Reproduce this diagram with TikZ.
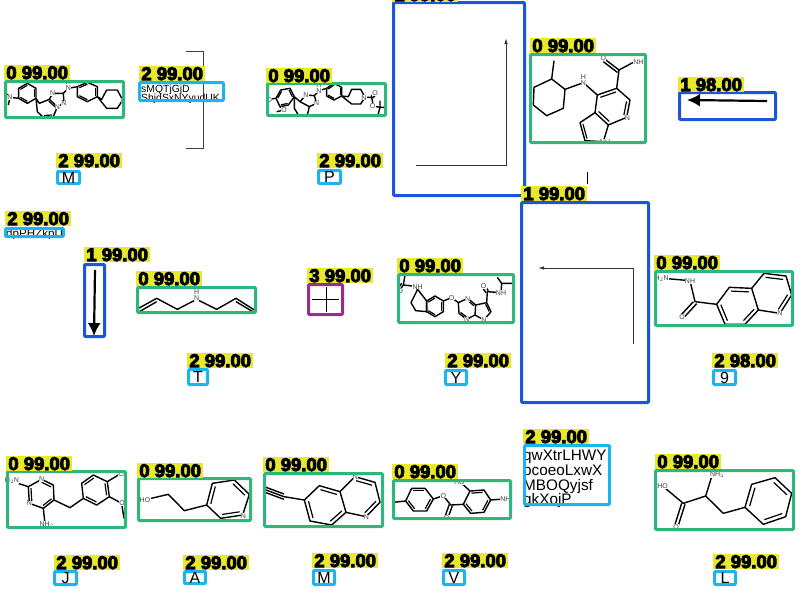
\documentclass[tikz,border=0pt]{standalone}
\usepackage{fontspec}
\setmainfont{Liberation Sans}
\newfontfamily\labfont{Liberation Sans Bold}
\usetikzlibrary{arrows.meta,calc}
\definecolor{molgreen}{HTML}{2FB67A}
\definecolor{arrblue}{HTML}{1A56D6}
\definecolor{txtcyan}{HTML}{1DB4EE}
\definecolor{plusviolet}{HTML}{942F8D}
\definecolor{labyellow}{HTML}{E8E82C}
\newcount\atomno
% box from outer corners, line width taken off
\newcommand{\detbox}[7][]{\node[detbox,#2,minimum width={(#5-#3-3)*1pt},minimum height={(#6-#4-3)*1pt}] (#1) at ({(#3+#5)/2},{(#4+#6)/2}) {#7};}
% score text is stroked as well as filled, it prints very heavy
\newcommand{\detlab}[4]{\node[detlab] (#1) at (#2,#3) {\special{pdf:code 2 Tr 0.9 w}#4\special{pdf:code 0 Tr 1 w}};}
\newcommand{\atom}[3]{\global\advance\atomno by 1 \node[atom] (atom\the\atomno) at (#1,#2) {#3};}
\newcommand{\inbond}[3]{\draw[thinb] ($#1!.2!#3$)--($#2!.2!#3$);}
\begin{document}
\begin{tikzpicture}[x=1pt,y=-1pt,>=Latex,
 detbox/.style={draw,line width=3pt,rounded corners=1pt,inner sep=0pt,font=\fontsize{16}{16}\selectfont},
 molbox/.style={draw=molgreen},
 arrbox/.style={draw=arrblue},
 txtbox/.style={draw=txtcyan},
 plusbox/.style={draw=plusviolet},
 detlab/.style={anchor=north west,fill=labyellow,inner sep=0pt,minimum width=66pt,minimum height=15pt,font=\labfont\fontsize{18.5}{17}\selectfont},
 atom/.style={fill=white,inner sep=.3pt,text=black!75,font=\fontsize{7}{8}\selectfont},
 bond/.style={line width=1.4pt,line join=round},
 thinb/.style={line width=1.2pt},
 thinarr/.style={->,line width=.9pt,black!80,>={Latex[length=6pt,width=3.5pt]}},
 fatarr/.style={->,line width=2.2pt,>={Latex[length=13pt,width=13pt]}},
 rawtext/.style={anchor=base west,inner sep=0pt}]
 \useasboundingbox (0,0) rectangle (800,600);
 % row 1 molecules
 \begin{scope}[shift={(0,40)},scale=1/3]
  \clip (12,120) rectangle (375,237);
  \draw[bond] (82,130)--(108,145)--(108,175)--(82,190)--(56,175)--(56,145)--cycle;
  \inbond{(108,145)}{(108,175)}{(82,160)}\inbond{(82,190)}{(56,175)}{(82,160)}\inbond{(56,145)}{(82,130)}{(82,160)}
  \draw[bond] (56,175)--(30,172)--(25,195) (30,172)--(18,160);
  \draw[bond] (108,175)--(118,190)--(148,178)--(172,200)--(160,230)--(130,232)--(112,215)--cycle;
  \inbond{(148,178)}{(172,200)}{(140,205)}\inbond{(160,230)}{(130,232)}{(140,205)}
  \draw[bond] (148,178)--(158,160)--(190,160)--(192,190)--(172,200);
  \draw[bond] (190,160)--(205,145)--(232,140);
  \draw[bond] (262,127)--(292,140)--(292,170)--(262,185)--(232,170)--(232,140)--cycle;
  \inbond{(292,140)}{(292,170)}{(262,155)}\inbond{(262,185)}{(232,170)}{(262,155)}\inbond{(232,140)}{(262,127)}{(262,155)}
  \draw[bond] (292,170)--(305,178)--(320,150)--(352,150)--(368,180)--(352,205)--(320,205)--cycle;
  \atom{30}{172}{N}\atom{158}{160}{N}\atom{192}{190}{N}\atom{172}{200}{N}\atom{205}{145}{N}\atom{205}{127}{H}\atom{370}{182}{N}
 \end{scope}
 \begin{scope}[shift={(260,0)},scale=1/3]
  \clip (17,245) rectangle (382,350);
  \draw[bond] (62,270)--(90,265)--(103,290)--(85,315)--(60,320)--(48,295)--cycle;
  \inbond{(90,265)}{(103,290)}{(75,292)}\inbond{(85,315)}{(60,320)}{(75,292)}\inbond{(48,295)}{(62,270)}{(75,292)}
  \draw[bond] (48,295)--(25,298) (60,320)--(72,330)--(50,335);
  \draw[bond] (103,290)--(120,305)--(148,320)--(142,345)--(115,345)--(103,325)--cycle;
  \draw[bond] (120,305)--(138,285)--(163,287)--(170,310)--(148,320);
  \draw[bond] (163,287)--(177,272)--(200,265);
  \draw[bond] (222,250)--(245,262)--(245,288)--(222,300)--(200,288)--(200,265)--cycle;
  \inbond{(245,262)}{(245,288)}{(222,275)}\inbond{(222,300)}{(200,288)}{(222,275)}\inbond{(200,265)}{(222,250)}{(222,275)}
  \draw[bond] (245,288)--(265,290)--(275,268)--(302,268)--(315,292)--(302,312)--(275,312)--cycle;
  \draw[bond] (315,292)--(335,292)--(340,318)--(360,322);
  \draw[bond] (333,290)--(343,280) (338,294)--(348,284);
  \draw[bond] (355,342)--(360,322)--(378,322) (360,302)--(360,322);
  \atom{28}{300}{O}\atom{138}{285}{N}\atom{170}{310}{N}\atom{177}{272}{N}\atom{177}{254}{H}\atom{312}{293}{N}\atom{345}{280}{O}\atom{338}{318}{O}\atom{72}{330}{O}
 \end{scope}
 \begin{scope}[shift={(520,30)},scale=1/3]
  \clip (28,68) rectangle (380,342);
  \draw[bond] (95,147)--(135,178)--(130,235)--(80,257)--(40,225)--(42,172)--cycle;
  \draw[bond] (95,147)--(102,92) (135,178)--(190,158)--(232,195);
  \draw[bond] (232,195)--(290,175)--(330,210)--(320,262)--(265,285)--(225,248)--cycle;
  \inbond{(232,195)}{(290,175)}{(278,230)}\inbond{(330,210)}{(320,262)}{(278,230)}\inbond{(265,285)}{(225,248)}{(278,230)}
  \draw[bond] (225,248)--(180,278)--(195,332)--(250,335)--(265,285);
  \inbond{(180,278)}{(195,332)}{(225,300)}
  \draw[bond] (290,175)--(297,120)--(340,97) (297,120)--(255,88) (292,127)--(250,95);
  \atom{190}{160}{N}\atom{190}{142}{H}\atom{322}{263}{N}\atom{355}{97}{NH}\atom{250}{85}{O}\atom{255}{335}{NH}
 \end{scope}
 \draw[black!75,line width=.9pt] (186,51)--(203,51)--(203,148)--(186,148);
 \draw[line width=1pt] (587,172)--(587,184);
 % row 2 molecules
 \begin{scope}[shift={(0,205)},scale=1/3]
  \clip (408,243) rectangle (772,326);
  \draw[bond] (412,312)--(470,280)--(532,313)--(590,283)--(650,313)--(708,280)--(768,318);
  \draw[bond] (418,320)--(470,290) (708,290)--(762,322);
  \atom{590}{280}{N}\atom{590}{261}{H}
 \end{scope}
 \begin{scope}[shift={(295,250)},scale=1/3]
  \clip (305,70) rectangle (662,222);
  \draw[bond] (330,75)--(325,105)--(352,108)--(368,118) (325,105)--(313,122) (320,100)--(308,117);
  \draw[bond] (368,118)--(348,158)--(362,182)--(395,185)--(395,153)--cycle;
  \draw[bond] (420,138)--(445,153)--(445,185)--(420,200)--(395,185)--(395,153)--cycle;
  \inbond{(445,153)}{(445,185)}{(420,170)}\inbond{(420,200)}{(395,185)}{(420,170)}\inbond{(395,153)}{(420,138)}{(420,170)}
  \draw[bond] (445,153)--(470,143)--(490,158);
  \draw[bond] (490,158)--(518,145)--(542,165)--(540,195)--(515,208)--(492,190)--cycle;
  \inbond{(518,145)}{(542,165)}{(516,176)}\inbond{(515,208)}{(492,190)}{(516,176)}
  \draw[bond] (542,165)--(575,158)--(588,185)--(567,210)--(540,195);
  \inbond{(575,158)}{(588,185)}{(560,182)}
  \draw[bond] (575,158)--(577,125)--(618,128)--(620,100)--(607,82) (620,100)--(652,100);
  \draw[bond] (580,122)--(570,108) (573,128)--(563,114);
  \atom{368}{110}{NH}\atom{470}{143}{O}\atom{518}{147}{N}\atom{515}{208}{N}\atom{567}{210}{N}\atom{618}{128}{NH}\atom{566}{109}{O}\atom{316}{122}{O}
 \end{scope}
 \begin{scope}[shift={(640,245)},scale=1/3]
  \clip (42,75) rectangle (463,245);
  \draw[bond] (70,100)--(150,107)--(165,170)--(230,178);
  \draw[bond] (160,170)--(125,208) (170,176)--(135,214);
  \draw[bond] (230,178)--(268,127)--(335,130)--(355,195)--(315,238)--(255,238)--cycle;
  \inbond{(268,127)}{(335,130)}{(292,183)}\inbond{(355,195)}{(315,238)}{(292,183)}\inbond{(255,238)}{(230,178)}{(292,183)}
  \draw[bond] (335,130)--(372,85)--(438,93)--(455,150)--(420,205)--(355,195);
  \inbond{(372,85)}{(438,93)}{(395,145)}\inbond{(455,150)}{(420,205)}{(395,145)}
  \atom{65}{100}{H$_2$N}\atom{150}{108}{NH}\atom{126}{216}{O}\atom{420}{205}{N}
 \end{scope}
 % row 3 molecules
 \begin{scope}[shift={(0,445)},scale=1/3]
  \clip (17,75) rectangle (382,252);
  \draw[bond] (38,110)--(85,125)--(125,103)--(160,120)--(162,165)--(130,190)--(88,175)--(85,125);
  \inbond{(125,103)}{(160,120)}{(125,147)}\inbond{(162,165)}{(130,190)}{(125,147)}\inbond{(88,175)}{(85,125)}{(125,147)}
  \draw[bond] (130,190)--(135,238) (162,165)--(210,188)--(250,160);
  \draw[bond] (250,160)--(245,115)--(280,90)--(322,110)--(328,155)--(290,180)--cycle;
  \inbond{(245,115)}{(280,90)}{(287,135)}\inbond{(322,110)}{(328,155)}{(287,135)}\inbond{(290,180)}{(250,160)}{(287,135)}
  \draw[bond] (322,110)--(355,90) (328,155)--(365,175)--(372,220);
  \atom{36}{108}{H$_2$N}\atom{125}{103}{N}\atom{88}{175}{N}\atom{140}{238}{NH$_2$}\atom{365}{86}{Cl}\atom{366}{175}{O}
 \end{scope}
 \begin{scope}[shift={(0,445)},scale=1/3]
  \clip (412,97) rectangle (757,232);
  \draw[bond] (445,162)--(505,148)--(553,197)--(620,180);
  \draw[bond] (620,180)--(637,115)--(703,105)--(748,148)--(728,210)--(662,220)--cycle;
  \inbond{(620,180)}{(637,115)}{(682,162)}\inbond{(703,105)}{(748,148)}{(682,162)}\inbond{(728,210)}{(662,220)}{(682,162)}
  \atom{435}{164}{HO}\atom{730}{212}{N}
 \end{scope}
 \begin{scope}[shift={(260,425)},scale=1/3]
  \clip (8,142) rectangle (372,310);
  \draw[bond] (18,187)--(72,207) (18,195)--(72,215) (18,203)--(72,223) (72,215)--(133,225);
  \draw[bond] (133,225)--(178,182)--(240,200)--(258,262)--(215,300)--(150,288)--cycle;
  \inbond{(178,182)}{(240,200)}{(195,242)}\inbond{(258,262)}{(215,300)}{(195,242)}\inbond{(150,288)}{(133,225)}{(195,242)}
  \draw[bond] (240,200)--(285,155)--(345,172)--(360,232)--(318,275)--(258,262);
  \inbond{(285,155)}{(345,172)}{(300,215)}\inbond{(360,232)}{(318,275)}{(300,215)}
  \atom{286}{155}{N}\atom{319}{277}{N}
 \end{scope}
 \begin{scope}[shift={(260,425)},scale=1/3]
  \clip (395,162) rectangle (755,286);
  \draw[bond] (400,232)--(437,228);
  \draw[bond] (437,228)--(455,190)--(495,190)--(520,222)--(500,258)--(460,258)--cycle;
  \inbond{(455,190)}{(495,190)}{(478,224)}\inbond{(520,222)}{(500,258)}{(478,224)}\inbond{(460,258)}{(437,228)}{(478,224)}
  \draw[bond] (520,222)--(550,212)--(572,240)--(610,238);
  \draw[bond] (568,238)--(556,272) (577,242)--(565,276);
  \draw[bond] (610,238)--(630,198)--(672,195)--(692,225)--(672,262)--(632,265)--cycle;
  \inbond{(630,198)}{(672,195)}{(651,230)}\inbond{(692,225)}{(672,262)}{(651,230)}\inbond{(632,265)}{(610,238)}{(651,230)}
  \draw[bond] (630,198)--(605,175) (692,225)--(730,222);
  \atom{550}{212}{O}\atom{598}{171}{HO}\atom{736}{222}{NH}\atom{560}{279}{O}
 \end{scope}
 \begin{scope}[shift={(515,425)},scale=1/3]
  \clip (418,132) rectangle (840,318);
  \draw[bond] (445,185)--(505,235)--(572,213)--(625,265)--(690,247) (572,213)--(590,155);
  \draw[bond] (500,235)--(480,298) (510,238)--(490,301);
  \draw[bond] (690,247)--(710,178)--(780,158)--(830,205)--(812,275)--(745,298)--cycle;
  \inbond{(710,178)}{(690,247)}{(760,228)}\inbond{(780,158)}{(830,205)}{(760,228)}\inbond{(812,275)}{(745,298)}{(760,228)}
  \atom{443}{184}{HO}\atom{606}{149}{NH$_2$}\atom{483}{305}{O}
 \end{scope}
 % printed texts, cut off by their boxes
 \begin{scope}
  \clip (138,81) rectangle (225,104);
  \node[rawtext,font=\fontsize{10.4}{10}\selectfont] (sm1) at (141,92) {sMQTjGjD};
  \node[rawtext,font=\fontsize{10.4}{10}\selectfont] (sm2) at (141,101.5) {ShjdSxNYyudUK};
 \end{scope}
 \begin{scope}
  \clip (4,227) rectangle (65,238);
  \node[rawtext,font=\fontsize{11.6}{12}\selectfont] (dp1) at (6,237) {dpPHZkpU};
 \end{scope}
 \begin{scope}
  \clip (523,444) rectangle (611,508);
  \foreach \ty/\tw [count=\i] in {460/qwXtrLHWY,475/pcoeoLxwX,490/MBOQyjsf,504.5/gkXojP}
   \node[rawtext,font=\fontsize{15.3}{15}\selectfont] (ql\i) at (523,\ty) {\tw};
 \end{scope}
 % detection boxes
 \detbox[m1]{molbox}{4}{80}{125}{119}{}
 \detbox[m2]{molbox}{266}{82}{387}{117}{}
 \detbox[m3]{molbox}{529}{53}{647}{144}{}
 \detbox[m4]{molbox}{136}{286}{257}{314}{}
 \detbox[m5]{molbox}{397}{273}{515}{324}{}
 \detbox[m6]{molbox}{654}{270}{794}{327}{}
 \detbox[m7]{molbox}{6}{470}{127}{529}{}
 \detbox[m8]{molbox}{137}{477}{252}{522}{}
 \detbox[m9]{molbox}{263}{472}{384}{528}{}
 \detbox[m10]{molbox}{392}{479}{512}{520}{}
 \detbox[m11]{molbox}{654}{469}{795}{531}{}
 \detbox[a1]{arrbox}{392}{1}{526}{197}{}
 \detbox[a2]{arrbox}{678}{91}{777}{121}{}
 \detbox[a3]{arrbox}{83}{263}{106}{338}{}
 \detbox[a4]{arrbox}{520}{201}{650}{404}{}
 \detbox[t1]{txtbox}{138}{81}{225}{102}{}
 \detbox[t2]{txtbox}{4}{227}{65}{238}{}
 \detbox[t3]{txtbox}{523}{444}{611}{506}{}
 \detbox[cM]{txtbox}{56}{170}{81}{185}{M}
 \detbox[cP]{txtbox}{317}{169}{342}{185}{P}
 \detbox[cT]{txtbox}{187}{368}{209}{386}{T}
 \detbox[cY]{txtbox}{444}{369}{468}{386}{Y}
 \detbox[c9]{txtbox}{712}{369}{737}{386}{9}
 \detbox[cJ]{txtbox}{53}{570}{78}{586}{J}
 \detbox[cA]{txtbox}{183}{570}{207}{585}{A}
 \detbox[cMb]{txtbox}{312}{569}{336}{586}{M}
 \detbox[cV]{txtbox}{442}{569}{466}{586}{V}
 \detbox[cL]{txtbox}{713}{570}{737}{586}{L}
 \detbox[p1]{plusbox}{307}{283}{344}{316}{}
 % arrows and the plus
 \coordinate (a1s) at (416,165);\coordinate (a1k) at (506,165);\coordinate (a1e) at (506,38);
 \draw[thinarr] (a1s)--(a1k)--(a1e);
 \coordinate (a4s) at (633,344);\coordinate (a4k) at (633,268);\coordinate (a4e) at (538,268);
 \draw[thinarr] (a4s)--(a4k)--(a4e);
 \coordinate (a2s) at (767,101);\coordinate (a2e) at (687,100);
 \draw[fatarr] (a2s)--(a2e);
 \coordinate (a3s) at (95,270);\coordinate (a3e) at (94,336);
 \draw[fatarr] (a3s)--(a3e);
 \coordinate (pl) at (312,299);\coordinate (pr) at (339,299);\coordinate (pt) at (326,287);\coordinate (pb) at (326,312);
 \draw[line width=.9pt] (pl)--(pr) (pt)--(pb);
 % score labels
 \detlab{l1}{4}{65}{0 99.00}
 \detlab{l2}{139}{66}{2 99.00}
 \detlab{l3}{266}{68}{0 99.00}
 \detlab{l4}{392}{-13}{1 99.00}
 \detlab{l5}{530}{38}{0 99.00}
 \detlab{l6}{678}{77}{1 98.00}
 \detlab{l7}{56}{153}{2 99.00}
 \detlab{l8}{317}{153}{2 99.00}
 \detlab{l9}{521}{186}{1 99.00}
 \detlab{l10}{5}{211}{2 99.00}
 \detlab{l11}{84}{247}{1 99.00}
 \detlab{l12}{136}{271}{0 99.00}
 \detlab{l13}{307}{268}{3 99.00}
 \detlab{l14}{397}{258}{0 99.00}
 \detlab{l15}{654}{255}{0 99.00}
 \detlab{l16}{187}{353}{2 99.00}
 \detlab{l17}{445}{353}{2 99.00}
 \detlab{l18}{712}{353}{2 98.00}
 \detlab{l19}{6}{456}{0 99.00}
 \detlab{l20}{137}{463}{0 99.00}
 \detlab{l21}{263}{457}{0 99.00}
 \detlab{l22}{392}{464}{0 99.00}
 \detlab{l23}{523}{429}{2 99.00}
 \detlab{l24}{655}{454}{0 99.00}
 \detlab{l25}{54}{555}{2 99.00}
 \detlab{l26}{183}{555}{2 99.00}
 \detlab{l27}{312}{553}{2 99.00}
 \detlab{l28}{442}{553}{2 99.00}
 \detlab{l29}{713}{554}{2 99.00}
\end{tikzpicture}
\end{document}
